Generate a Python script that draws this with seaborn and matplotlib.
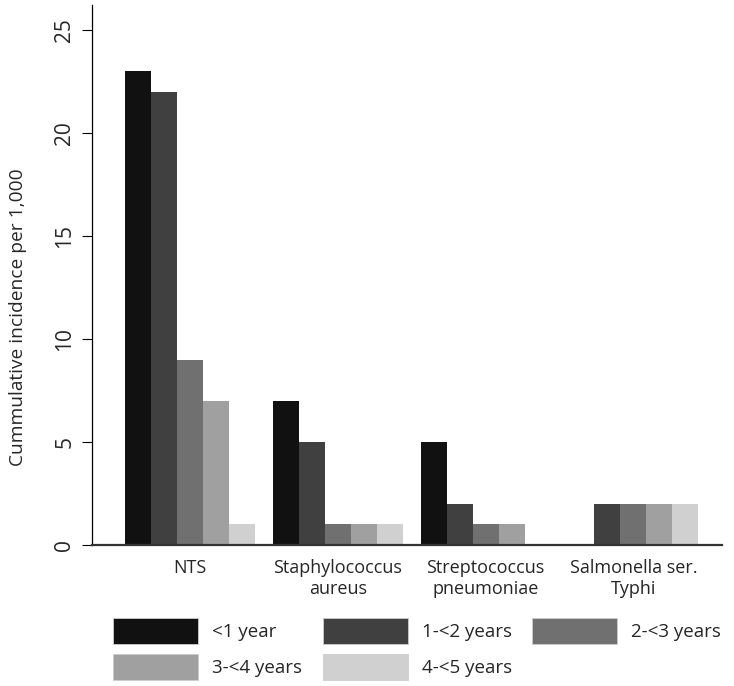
import pandas as pd
import matplotlib
matplotlib.use("Agg")
import matplotlib.pyplot as plt
import seaborn as sns

# Datos:
pathogens = ["NTS", "Staphylococcus\naureus", "Streptococcus\npneumoniae", "Salmonella ser.\nTyphi"]
age_groups = ["<1 year", "1-<2 years", "2-<3 years", "3-<4 years", "4-<5 years"]
lt1 = [23, 7, 5, 0]
y1_2 = [22, 5, 2, 2]
y2_3 = [9, 1, 1, 2]
y3_4 = [7, 1, 1, 2]
y4_5 = [1, 1, 0, 2]
grays = ["#111111", "#404040", "#707070", "#a0a0a0", "#d0d0d0"]

rows = []
for age, vals in zip(age_groups, [lt1, y1_2, y2_3, y3_4, y4_5]):
    for p, v in zip(pathogens, vals):
        rows.append({"pathogen": p, "age": age, "value": v})
df = pd.DataFrame(rows)

sns.set_style("ticks")
plt.rcParams["font.family"] = ["Open Sans", "DejaVu Sans"]

fig = plt.figure(figsize=(7.34, 6.86), dpi=100)
ax = fig.add_axes([0.1253, 0.2055, 0.8584, 0.7872])
sns.barplot(data=df, x="pathogen", y="value", hue="age", hue_order=age_groups,
            order=pathogens, palette=grays, width=0.88, saturation=1,
            linewidth=0, ax=ax, legend=False)

ax.set_xlim(-0.664, 3.6)
ax.set_ylim(0, 26.2)
ax.set_yticks([0, 5, 10, 15, 20, 25])
ax.set_yticklabels(["0", "5", "10", "15", "20", "25"], rotation=90, va="center")
ax.set_xlabel("")
ax.set_ylabel("Cummulative incidence per 1,000", fontsize=13.8)
ax.yaxis.set_label_coords(-0.103, 0.422)
ax.tick_params(axis="y", labelsize=15, length=7, width=0.8, color="black", pad=5)
ax.tick_params(axis="x", labelsize=13, length=0, pad=10)
for s in ["top", "right"]:
    ax.spines[s].set_visible(False)
ax.spines["left"].set_color("black")
ax.spines["left"].set_linewidth(0.9)
ax.spines["bottom"].set_color("#333333")
ax.spines["bottom"].set_linewidth(1.6)

# Leyenda abajo en 3 columnas, orden por filas
handles = [plt.Rectangle((0, 0), 1, 1, facecolor=c, edgecolor="#cccccc", linewidth=0.6) for c in grays]
order = [0, 3, 1, 4, 2]
fig.legend([handles[i] for i in order], [age_groups[i] for i in order],
           loc="upper left", bbox_to_anchor=(0.154, 0.099),
           ncol=3, frameon=False, fontsize=13.5, handlelength=4.53, handleheight=1.76,
           handletextpad=0.75, columnspacing=1.1, labelspacing=0.52,
           borderpad=0, borderaxespad=0)

fig.savefig("out.png", dpi=100)
